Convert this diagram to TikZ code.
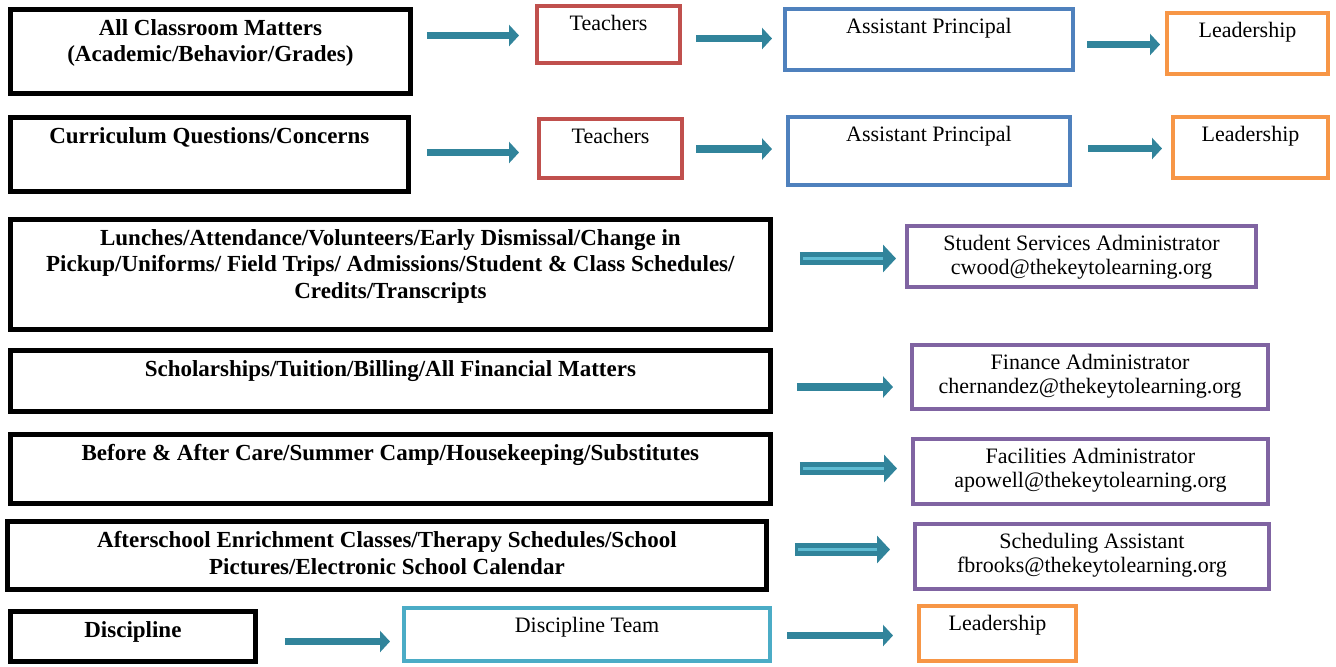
\documentclass[tikz,border=0pt]{standalone}
\usepackage{fontspec}
\setmainfont{Liberation Serif}
\usetikzlibrary{arrows.meta}
\usetikzlibrary{calc}

\definecolor{arrowteal}{HTML}{31849B}
\definecolor{stripe}{HTML}{5FBCD3}
\definecolor{tchred}{HTML}{C0504D}
\definecolor{apblue}{HTML}{4F81BD}
\definecolor{leadorange}{HTML}{F79646}
\definecolor{adminpurple}{HTML}{8064A2}
\definecolor{teamblue}{HTML}{4BACC6}

\tikzset{
  topic/.style={draw=black, line width=2.4pt, anchor=north west, inner sep=0pt},
  office/.style={draw=#1, line width=2pt, anchor=north west, inner sep=0pt},
  bt/.style={anchor=north, inner sep=0pt, yshift=-6pt, align=center, font=\fontsize{11.5}{13.25}\selectfont\bfseries},
  rt/.style={anchor=north, inner sep=0pt, yshift=-5.5pt, align=center, font=\fontsize{11}{11.75}\selectfont},
  flow/.style={arrowteal, line width=3.6pt, -{Triangle[length=5pt,width=10.5pt]}},
  dflow/.style={flow, line width=6.2pt, -{Triangle[length=6.5pt,width=13.5pt]},
    postaction={draw=stripe, line width=1.1pt, -, shorten >=6.5pt, shorten <=1.5pt}}
}

\begin{document}
\begin{tikzpicture}[x=0.5pt, y=-0.5pt]
\useasboundingbox (0,0) rectangle (1336,666);

% row 1
\node[topic, minimum width=200pt, minimum height=42pt, label={[bt]north:{All Classroom Matters\\(Academic/Behavior/Grades)}}] (r1l) at (8,7) {};
\node[office=tchred, minimum width=71.5pt, minimum height=28.5pt, label={[rt]north:{Teachers}}] (r1t) at (535,4) {};
\node[office=apblue, minimum width=144pt, minimum height=30.5pt, label={[rt]north:{Assistant Principal}}] (r1a) at (783,7) {};
\node[office=leadorange, minimum width=80.5pt, minimum height=30.5pt, label={[rt]north:{Leadership}}] (r1d) at (1165,11) {};
\draw[flow] ($(r1t.west -| r1l.east)+(14,1)$) -- ($(r1t.west)+(-16,1)$);
\draw[flow] ($(r1a.west -| r1t.east)+(14,-1)$) -- ($(r1a.west)+(-11,-1)$);
\draw[flow] ($(r1d.west -| r1a.east)+(12,1)$) -- ($(r1d.west)+(-5,1)$);

% row 2
\node[topic, minimum width=199pt, minimum height=37pt, label={[bt]north:{Curriculum Questions/Concerns}}] (r2l) at (8,115) {};
\node[office=tchred, minimum width=71.5pt, minimum height=29.5pt, label={[rt]north:{Teachers}}] (r2t) at (537,117) {};
\node[office=apblue, minimum width=141pt, minimum height=34pt, label={[rt]north:{Assistant Principal}}] (r2a) at (786,115) {};
\node[office=leadorange, minimum width=77.5pt, minimum height=30.5pt, label={[rt]north:{Leadership}}] (r2d) at (1171,115) {};
\draw[flow] ($(r2t.west -| r2l.east)+(16,4)$) -- ($(r2t.west)+(-18,4)$);
\draw[flow] ($(r2a.west -| r2t.east)+(12,-2)$) -- ($(r2a.west)+(-14,-2)$);
\draw[flow] ($(r2d.west -| r2a.east)+(16,1)$) -- ($(r2d.west)+(-9,1)$);

% rows 3 to 6
\node[topic, minimum width=380pt, minimum height=55pt, label={[bt]north:{Lunches/Attendance/Volunteers/Early Dismissal/Change in\\Pickup/Uniforms/ Field Trips/ Admissions/Student \& Class Schedules/\\Credits/Transcripts}}] (r3l) at (8,217) {};
\node[office=adminpurple, minimum width=174.5pt, minimum height=30.5pt, label={[rt]north:{Student Services Administrator\\cwood@thekeytolearning.org}}] (r3s) at (905,224) {};
\draw[dflow] ($(r3s.west -| r3l.east)+(27,2)$) -- ($(r3s.west)+(-9,2)$);

\node[topic, minimum width=380pt, minimum height=30.5pt, label={[bt]north:{Scholarships/Tuition/Billing/All Financial Matters}}] (r4l) at (8,348) {};
\node[office=adminpurple, minimum width=178pt, minimum height=32pt, label={[rt]north:{Finance Administrator\\chernandez@thekeytolearning.org}}] (r4f) at (910,343) {};
\draw[flow] ($(r4f.west -| r4l.east)+(24,10)$) -- ($(r4f.west)+(-17,10)$);

\node[topic, minimum width=380pt, minimum height=34.5pt, label={[bt]north:{Before \& After Care/Summer Camp/Housekeeping/Substitutes}}] (r5l) at (8,432) {};
\node[office=adminpurple, minimum width=177.5pt, minimum height=32.5pt, label={[rt]north:{Facilities Administrator\\apowell@thekeytolearning.org}}] (r5c) at (911,437) {};
\draw[dflow] ($(r5c.west -| r5l.east)+(27,-3)$) -- ($(r5c.west)+(-14,-3)$);

\node[topic, minimum width=379.5pt, minimum height=34pt, label={[bt]north:{Afterschool Enrichment Classes/Therapy Schedules/School\\Pictures/Electronic School Calendar}}] (r6l) at (5,519) {};
\node[office=adminpurple, minimum width=177pt, minimum height=32.5pt, label={[rt]north:{Scheduling Assistant\\fbrooks@thekeytolearning.org}}] (r6s) at (913,522) {};
\draw[dflow] ($(r6s.west -| r6l.east)+(26,-7)$) -- ($(r6s.west)+(-23,-7)$);

% row 7
\node[topic, minimum width=122.5pt, minimum height=25pt, label={[bt]north:{Discipline}}] (r7l) at (8,609) {};
\node[office=teamblue, minimum width=183pt, minimum height=26.5pt, label={[rt]north:{Discipline Team}}] (r7t) at (402,606) {};
\node[office=leadorange, minimum width=78.5pt, minimum height=27.5pt, label={[rt]north:{Leadership}}] (r7d) at (917,604) {};
\draw[flow] ($(r7t.west -| r7l.east)+(27,7)$) -- ($(r7t.west)+(-12,7)$);
\draw[flow] ($(r7d.west -| r7t.east)+(15,2)$) -- ($(r7d.west)+(-24,2)$);
\end{tikzpicture}
\end{document}
